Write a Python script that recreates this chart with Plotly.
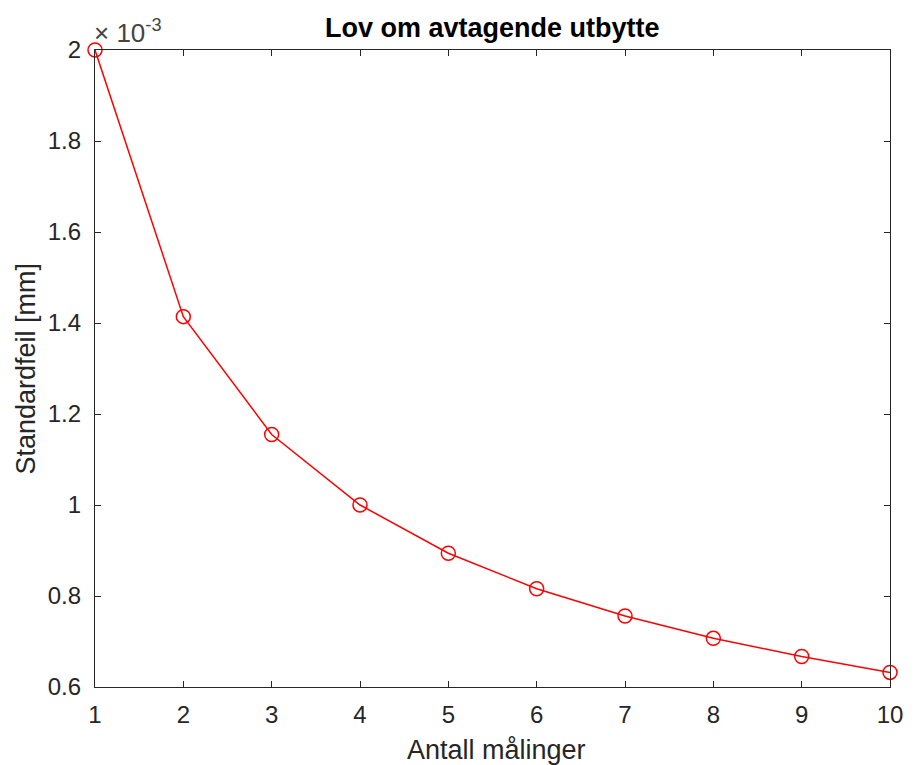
import plotly.graph_objects as go

# Data (standard error in mm vs number of measurements)
antall = [1, 2, 3, 4, 5, 6, 7, 8, 9, 10]
standardfeil = [2.000e-3, 1.414e-3, 1.155e-3, 1.000e-3, 0.894e-3,
                0.816e-3, 0.756e-3, 0.707e-3, 0.667e-3, 0.632e-3]
y_tickvals = [0.6e-3, 0.8e-3, 1.0e-3, 1.2e-3, 1.4e-3, 1.6e-3, 1.8e-3, 2.0e-3]
y_ticktext = ["0.6", "0.8", "1", "1.2", "1.4", "1.6", "1.8", "2"]
x_tickvals = [1, 2, 3, 4, 5, 6, 7, 8, 9, 10]

FONT = "Liberation Sans, Arial, Helvetica, sans-serif"
AX = "#262626"

fig = go.Figure()
fig.add_trace(go.Scatter(
    x=antall, y=standardfeil, mode="lines+markers",
    line=dict(color="#FF0000", width=1.5),
    marker=dict(symbol="circle-open", size=14, color="#FF0000",
                line=dict(color="#FF0000", width=1.5)),
    cliponaxis=False, showlegend=False, hoverinfo="x+y",
))

axis_common = dict(
    showline=True, linecolor=AX, linewidth=1.2, mirror="ticks",
    ticks="inside", ticklen=6, tickwidth=1.2, tickcolor=AX,
    showgrid=False, zeroline=False,
    tickfont=dict(family=FONT, size=24, color=AX),
)

fig.update_xaxes(range=[1, 10], tickvals=x_tickvals, ticklabelstandoff=6,
                 **axis_common)
fig.update_yaxes(range=[0.6e-3, 2.0e-3], tickvals=y_tickvals,
                 ticktext=y_ticktext, ticklabelstandoff=8, **axis_common)

fig.update_layout(
    width=915, height=765,
    margin=dict(l=95, r=17, t=50, b=78),
    paper_bgcolor="white", plot_bgcolor="white",
    font=dict(family=FONT, color=AX),
    annotations=[
        dict(text="<b>Lov om avtagende utbytte</b>", xref="paper", yref="paper",
             x=0.5, y=1, xanchor="center", yanchor="bottom", yshift=5,
             showarrow=False, font=dict(family=FONT, size=27, color="#000000")),
        dict(text="Antall målinger", xref="paper", yref="paper",
             x=0.5, y=0, xanchor="center", yanchor="middle", xshift=4, yshift=-63,
             showarrow=False, font=dict(family=FONT, size=27, color=AX)),
        dict(text="Standardfeil [mm]", xref="paper", yref="paper",
             x=0, y=0.5, xanchor="center", yanchor="middle", xshift=-70,
             textangle=-90, showarrow=False,
             font=dict(family=FONT, size=27, color=AX)),
        dict(text="× 10<sup>-3</sup>",
             xref="paper", yref="paper",
             x=0, y=1, xanchor="left", yanchor="bottom", xshift=-3, yshift=0,
             showarrow=False, font=dict(family=FONT, size=26, color="#444444")),
    ],
)

fig.write_html("out.html")
